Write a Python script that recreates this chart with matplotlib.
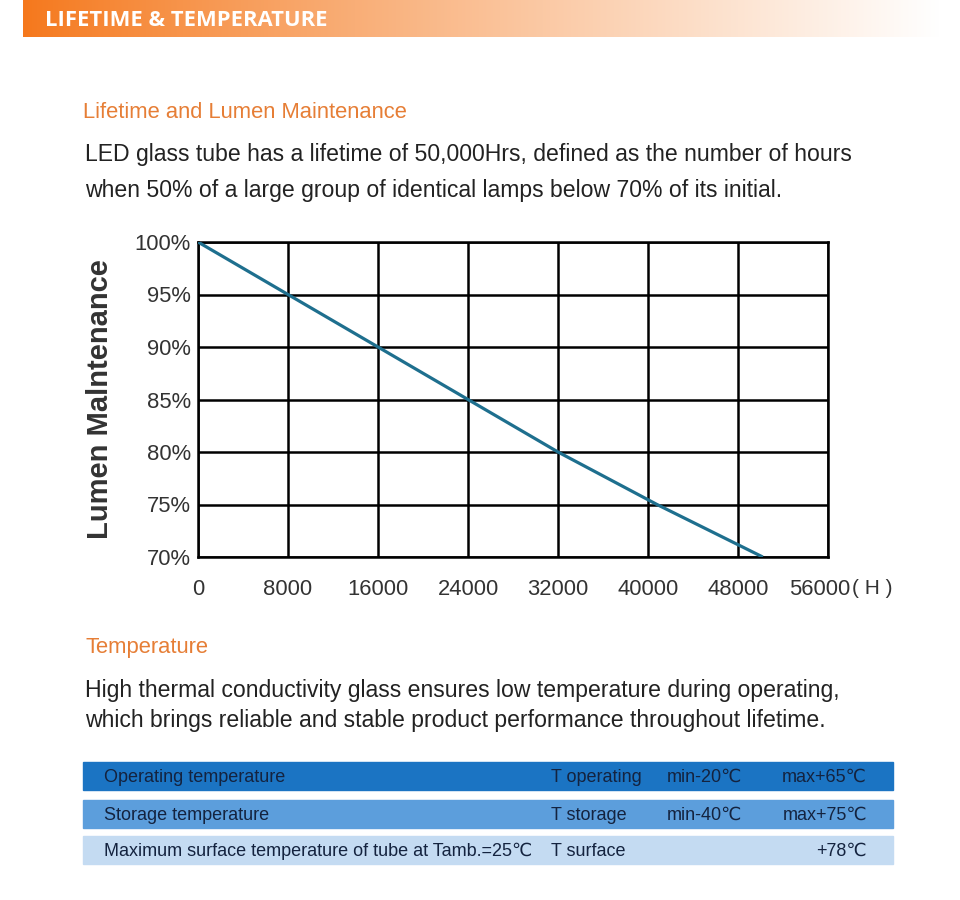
import numpy as np
import matplotlib.pyplot as plt
import matplotlib.transforms as mtransforms
from matplotlib.patches import Rectangle

# lumen maintenance curve
hours = [0, 8000, 16000, 24000, 32000, 40800, 50200]
lumen = [100, 95, 90, 85, 80, 75, 70]

xticks = [0, 8000, 16000, 24000, 32000, 40000, 48000, 56000]
yticks = [70, 75, 80, 85, 90, 95, 100]

# temperature table
t_names = ['Operating temperature', 'Storage temperature',
           'Maximum surface temperature of tube at Tamb.=25℃']
t_symbols = ['T operating', 'T storage', 'T surface']
t_min = ['min-20℃', 'min-40℃', '']
t_max = ['max+65℃', 'max+75℃', '+78℃']
row_colors = ['#1b74c3', '#5c9edc', '#c4dbf2']

W, H = 960, 900
SANS = ['Liberation Sans', 'DejaVu Sans']


def px(x, y):
    return x / W, 1 - y / H


def ptext(x, y, s, **kw):
    fx, fy = px(x, y)
    kw.setdefault('family', SANS)
    return fig.text(fx, fy, s, **kw)


fig = plt.figure(figsize=(W / 100, H / 100), dpi=100)
fig.patch.set_facecolor('white')

# header bar with orange -> white gradient
hx = fig.add_axes([23 / W, 1 - 37 / H, (940 - 23) / W, 37 / H])
c0 = np.array([245, 120, 28]) / 255
c1 = np.array([255, 255, 255]) / 255
t = np.linspace(0, 1, 400)[None, :, None]
grad = c0 + (c1 - c0) * t ** 0.9
hx.imshow(grad, aspect='auto', extent=[0, 1, 0, 1])
hx.axis('off')
ptext(45, 21, 'LIFETIME & TEMPERATURE', color='white', fontsize=15.8,
      fontweight='bold', va='center', family=['Open Sans', 'DejaVu Sans'])

orange = '#e67e36'
body = '#222222'

ptext(83, 113, 'Lifetime and Lumen Maintenance', color=orange, fontsize=15.8, va='center')
ptext(85, 155, 'LED glass tube has a lifetime of 50,000Hrs, defined as the number of hours',
      color=body, fontsize=16.6, va='center')
ptext(85, 190, 'when 50% of a large group of identical lamps below 70% of its initial.',
      color=body, fontsize=16.6, va='center')

# chart
ax = fig.add_axes([198 / W, 1 - 557 / H, 630 / W, 315 / H])
ax.plot(hours, lumen, color='#1e6f8e', lw=2.3, solid_capstyle='butt', zorder=3)
ax.set_xlim(0, 56000)
ax.set_ylim(70, 100)
ax.set_xticks(xticks)
ax.set_yticks(yticks)
ax.set_xticklabels([str(v) for v in xticks])
ax.set_yticklabels([f'{v}%' for v in yticks])
ax.grid(True, color='black', lw=1.8)
ax.set_axisbelow(True)
for s in ax.spines.values():
    s.set_color('black')
    s.set_linewidth(1.8)
ax.tick_params(length=0, labelsize=15.8, colors='#333333')
ax.tick_params(axis='x', pad=15.5)
ax.tick_params(axis='y', pad=5)
for lab in ax.get_xticklabels() + ax.get_yticklabels():
    lab.set_family(SANS)
# last hour label sits a bit left of the corner to leave room for the unit
last = ax.get_xticklabels()[-1]
last.set_transform(last.get_transform() +
                   mtransforms.ScaledTranslation(-8 / 100, 0, fig.dpi_scale_trans))
ax.set_ylabel('Lumen Malntenance', fontsize=21, fontweight='bold', color='#333333',
              family=SANS, labelpad=15)
ptext(852, 588, '( H )', color='#333333', fontsize=15, va='center')

ptext(86, 647, 'Temperature', color=orange, fontsize=15.8, va='center')
ptext(85, 690, 'High thermal conductivity glass ensures low temperature during operating,',
      color=body, fontsize=16.6, va='center')
ptext(85, 721, 'which brings reliable and stable product performance throughout lifetime.',
      color=body, fontsize=16.6, va='center')

# table rows
row_top = [762, 800, 836]
row_h = 28
for i in range(len(t_names)):
    x0, y0 = px(83, row_top[i] + row_h)
    fig.patches.append(Rectangle((x0, y0), (893 - 83) / W, row_h / H,
                                 transform=fig.transFigure, color=row_colors[i],
                                 zorder=0))
    yc = row_top[i] + row_h / 2 + 1.5
    tc = '#14233f'
    ptext(104, yc, t_names[i], color=tc, fontsize=13, va='center')
    ptext(551, yc, t_symbols[i], color=tc, fontsize=13, va='center')
    ptext(667, yc, t_min[i], color=tc, fontsize=13, va='center')
    ptext(867, yc, t_max[i], color=tc, fontsize=13, va='center', ha='right')

fig.savefig('out.png', dpi=100)
